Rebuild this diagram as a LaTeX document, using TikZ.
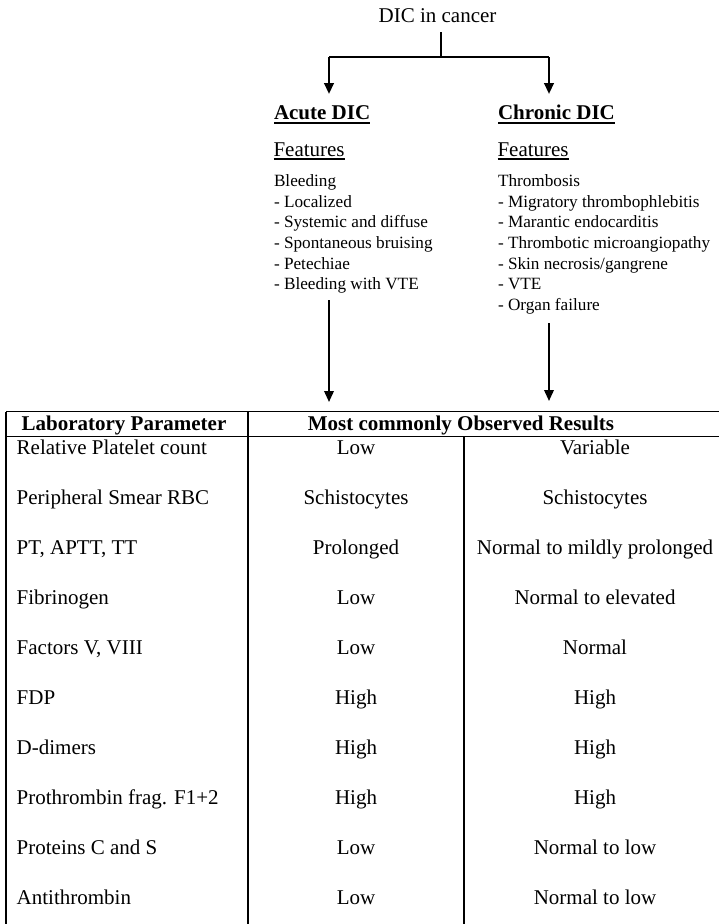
\documentclass[tikz,border=0pt]{standalone}
\usepackage{fontspec}
\setmainfont{Liberation Serif}
\usetikzlibrary{arrows.meta}
\begin{document}
\begin{tikzpicture}[x=1bp,y=-1bp,
  big/.style={inner sep=0pt, outer sep=0pt, font=\fontsize{21bp}{25bp}\selectfont},
  bigb/.style={big, font=\fontsize{21bp}{25bp}\selectfont\bfseries},
  lst/.style={inner sep=0pt, outer sep=0pt, anchor=base west, font=\fontsize{17.2bp}{20.7bp}\selectfont},
  cell/.style={big, anchor=base},
  cellL/.style={big, anchor=base west},
  toparr/.style={line width=2.4bp, -{Triangle[length=11bp,width=9.5bp]}},
  botarr/.style={line width=2bp, -{Triangle[length=11bp,width=9.5bp]}},
  topline/.style={line width=2.4bp},
  uline/.style={line width=1.3bp},
  tbl/.style={line width=1.1bp}]
\useasboundingbox (0,0) rectangle (719,924);
\fill[white] (0,0) rectangle (719,924);

% title and branching
\node[big, anchor=base] (dic) at (437.5,22.3) {DIC in cancer};
\coordinate (stemtop) at (441,32);
\coordinate (junc) at (441,57);
\coordinate (jl) at (329,57);
\coordinate (jr) at (549,57);
\coordinate (tipl) at (329,94);
\coordinate (tipr) at (549,94);
\draw[topline] (stemtop) -- (junc);
\draw[topline] (jl) -- (jr);
\draw[toparr] (jl) -- (tipl);
\draw[toparr] (jr) -- (tipr);

% Acute column
\node[bigb, anchor=base west] (acute) at (274,119.5) {Acute DIC};
\draw[uline] ([yshift=-3.5bp]acute.base west) -- ([yshift=-3.5bp]acute.base east);
\node[big, anchor=base west] (featA) at (273.5,156) {Features};
\draw[uline] ([yshift=-3bp]featA.base west) -- ([yshift=-3bp]featA.base east);
\node[lst] (a0) at (274,186.4) {Bleeding};
\node[lst] (a1) at (274,207.1) {- Localized};
\node[lst] (a2) at (274,227.8) {- Systemic and diffuse};
\node[lst] (a3) at (274,248.5) {- Spontaneous bruising};
\node[lst] (a4) at (274,269.2) {- Petechiae};
\node[lst] (a5) at (274,289.9) {- Bleeding with VTE};

% Chronic column
\node[bigb, anchor=base west] (chronic) at (498,119.5) {Chronic DIC};
\draw[uline] ([yshift=-3.5bp]chronic.base west) -- ([yshift=-3.5bp]chronic.base east);
\node[big, anchor=base west] (featC) at (497.5,156) {Features};
\draw[uline] ([yshift=-3bp]featC.base west) -- ([yshift=-3bp]featC.base east);
\node[lst] (b0) at (498,186.4) {Thrombosis};
\node[lst] (b1) at (498,207.1) {- Migratory thrombophlebitis};
\node[lst] (b2) at (498,227.8) {- Marantic endocarditis};
\node[lst] (b3) at (498,248.5) {- Thrombotic microangiopathy};
\node[lst] (b4) at (498,269.2) {- Skin necrosis/gangrene};
\node[lst] (b5) at (498,289.9) {- VTE};
\node[lst] (b6) at (498,310.6) {- Organ failure};

% arrows to table
\coordinate (la) at (329,300);
\coordinate (lb) at (329,402);
\coordinate (ra) at (549,323);
\coordinate (rb) at (549,401);
\draw[botarr] (la) -- (lb);
\draw[botarr] (ra) -- (rb);

% table grid
\draw[tbl] (6,411.7) -- (719,411.7);
\draw[tbl] (6,436.5) -- (719,436.5);
\draw[tbl] (6,411.7) -- (6,924);
\draw[tbl] (248,411.7) -- (248,924);
\draw[tbl] (464,436.5) -- (464,924);

% header
\node[bigb, anchor=base] (h1) at (124,430.5) {Laboratory Parameter};
\node[bigb, anchor=base] (h2) at (461,430.5) {Most commonly Observed Results};

% rows
\node[cellL] (p1) at (16.7,454) {Relative Platelet count};
\node[cell] (m1) at (356,454) {Low};
\node[cell] (c1) at (595,454) {Variable};
\node[cellL] (p2) at (16.7,504) {Peripheral Smear RBC};
\node[cell] (m2) at (356,504) {Schistocytes};
\node[cell] (c2) at (595,504) {Schistocytes};
\node[cellL] (p3) at (16.7,554) {PT, APTT, TT};
\node[cell] (m3) at (356,554) {Prolonged};
\node[cell] (c3) at (595,554) {Normal to mildly prolonged};
\node[cellL] (p4) at (16.7,604) {Fibrinogen};
\node[cell] (m4) at (356,604) {Low};
\node[cell] (c4) at (595,604) {Normal to elevated};
\node[cellL] (p5) at (16.7,654) {Factors V, VIII};
\node[cell] (m5) at (356,654) {Low};
\node[cell] (c5) at (595,654) {Normal};
\node[cellL] (p6) at (16.7,704) {FDP};
\node[cell] (m6) at (356,704) {High};
\node[cell] (c6) at (595,704) {High};
\node[cellL] (p7) at (16.7,754) {D-dimers};
\node[cell] (m7) at (356,754) {High};
\node[cell] (c7) at (595,754) {High};
\node[cellL] (p8) at (16.7,804) {Prothrombin frag. F1+2};
\node[cell] (m8) at (356,804) {High};
\node[cell] (c8) at (595,804) {High};
\node[cellL] (p9) at (16.7,854) {Proteins C and S};
\node[cell] (m9) at (356,854) {Low};
\node[cell] (c9) at (595,854) {Normal to low};
\node[cellL] (p10) at (16.7,904) {Antithrombin};
\node[cell] (m10) at (356,904) {Low};
\node[cell] (c10) at (595,904) {Normal to low};
\end{tikzpicture}
\end{document}
